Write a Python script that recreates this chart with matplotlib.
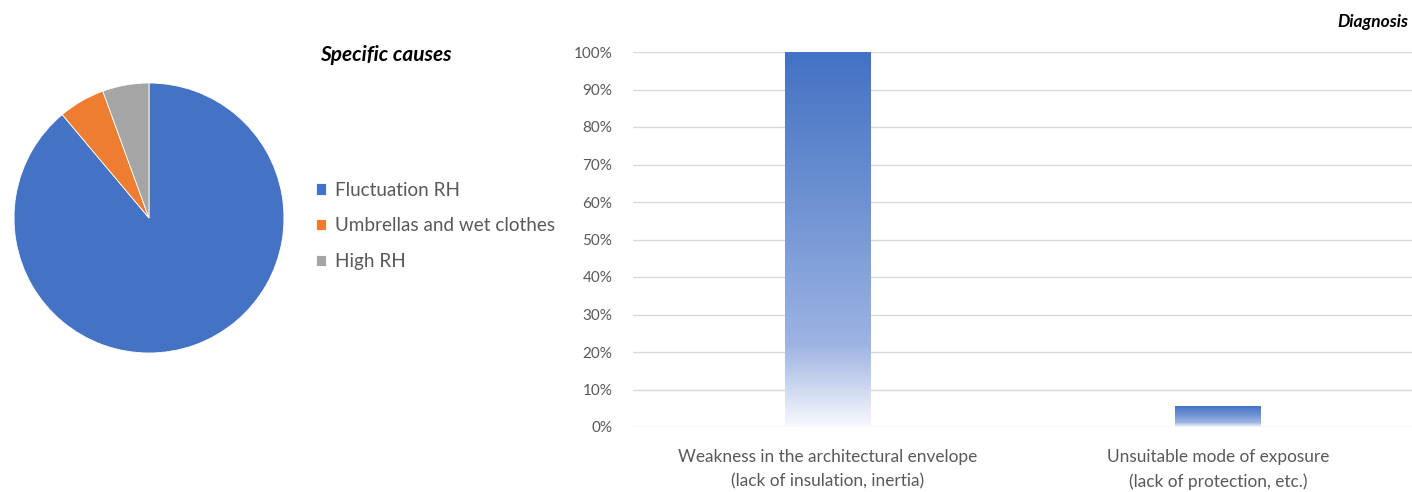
import numpy as np
import matplotlib.pyplot as plt
from matplotlib.colors import LinearSegmentedColormap
from matplotlib.ticker import PercentFormatter

plt.rcParams['font.family'] = ['Lato', 'DejaVu Sans']

# pie data (counts)
causes = ['Fluctuation RH', 'Umbrellas and wet clothes', 'High RH']
cause_counts = [16, 1, 1]
cause_colors = ['#4472C4', '#ED7D31', '#A5A5A5']

# bar data
diagnosis = ['Weakness in the architectural envelope\n(lack of insulation, inertia)',
             'Unsuitable mode of exposure\n(lack of protection, etc.)']
diagnosis_share = [1.0, 0.056]

W, H = 1412, 492
fig = plt.figure(figsize=(W / 100, H / 100), dpi=100)

def box(l, t, r, b):
    return [l / W, 1 - b / H, (r - l) / W, (b - t) / H]

# pie
ax1 = fig.add_axes(box(14, 83, 284, 353))
wedges, _ = ax1.pie(cause_counts, colors=cause_colors, startangle=90, counterclock=False,
                    wedgeprops=dict(edgecolor='white', linewidth=0.6))
ax1.set_xlim(-1, 1)
ax1.set_ylim(-1, 1)
ax1.set_aspect('equal')
fig.text(386 / W, 1 - 55 / H, 'Specific causes', ha='center', va='center',
         fontsize=15, fontweight='bold', fontstyle='italic', color='black')
fig.legend(wedges, causes, loc='upper left', bbox_to_anchor=(308 / W, 1 - 174 / H),
           frameon=False, fontsize=13.6, labelcolor='#595959', handlelength=0.55,
           handleheight=0.55, handletextpad=0.5, labelspacing=1.0, borderaxespad=0)

# bar chart
ax2 = fig.add_axes(box(633, 52, 1413, 427))
x = np.arange(len(diagnosis))
bars = ax2.bar(x, diagnosis_share, width=0.22, color='none', zorder=2)

grad = LinearSegmentedColormap.from_list('g', [(0.0, '#F7F9FD'), (0.22, '#9DB3E2'),
                                               (0.6, '#6E92D2'), (1.0, '#4472C4')])
img = np.linspace(0, 1, 256).reshape(-1, 1)
for b in bars:
    x0, y0 = b.get_x(), b.get_y()
    im = ax2.imshow(img, cmap=grad, origin='lower', aspect='auto', zorder=2,
                    extent=(x0, x0 + b.get_width(), y0, y0 + b.get_height()))
    im.set_clip_path(b)
ax2.set_xlim(-0.5, len(diagnosis) - 0.5)
ax2.set_ylim(0, 1)

ax2.set_yticks(np.arange(0, 1.01, 0.1))
ax2.yaxis.set_major_formatter(PercentFormatter(1.0, decimals=0))
ax2.grid(axis='y', color='#D9D9D9', linewidth=1, zorder=0)
ax2.set_axisbelow(True)
for s in ax2.spines.values():
    s.set_visible(False)
ax2.tick_params(axis='y', length=0, labelsize=11, labelcolor='#595959', pad=15)
ax2.set_xticks(x)
ax2.set_xticklabels(diagnosis, fontsize=12.4, color='#595959', linespacing=1.6)
ax2.tick_params(axis='x', length=0, pad=16)

fig.text(1408 / W, 1 - 22 / H, 'Diagnosis', ha='right', va='center',
         fontsize=12.5, fontweight='bold', fontstyle='italic', color='black')

fig.savefig('out.png', dpi=100, facecolor='white')
